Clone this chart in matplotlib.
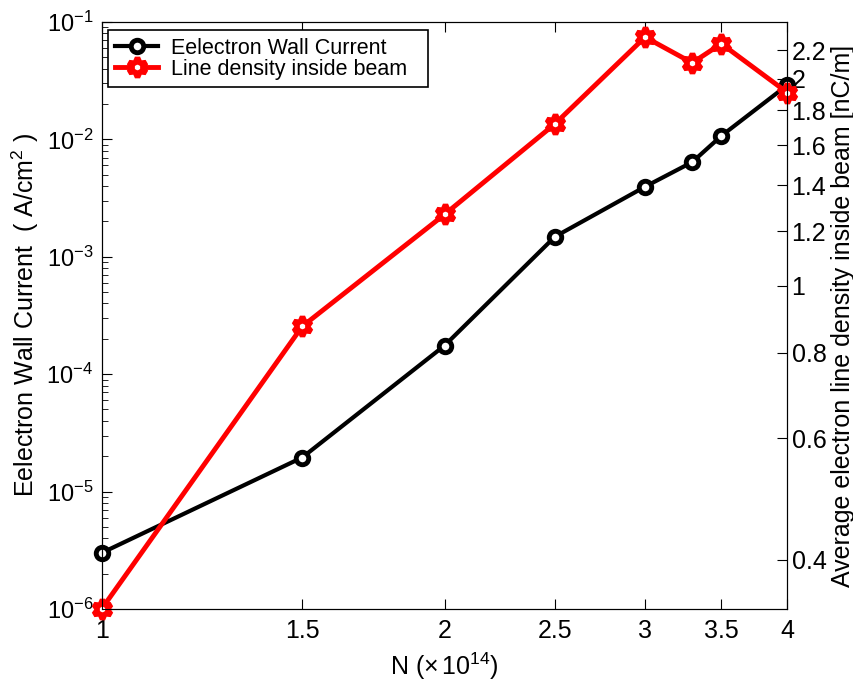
import numpy as np
import matplotlib.pyplot as plt
from matplotlib.ticker import FixedLocator, NullLocator, FixedFormatter

plt.rcParams['font.family'] = ['Liberation Sans', 'DejaVu Sans']
plt.rcParams['mathtext.fontset'] = 'custom'
plt.rcParams['mathtext.rm'] = 'Liberation Sans'
plt.rcParams['mathtext.it'] = 'Liberation Sans:italic'

# data
n_vals = [1, 1.5, 2, 2.5, 3, 3.3, 3.5, 4]
wall_current = [3.0e-6, 1.95e-5, 1.75e-4, 1.48e-3, 3.95e-3, 6.4e-3, 1.07e-2, 2.9e-2]
line_density = [0.339, 0.873, 1.27, 1.72, 2.30, 2.11, 2.25, 1.91]

xticks = [1, 1.5, 2, 2.5, 3, 3.5, 4]
xtick_labels = ['1', '1.5', '2', '2.5', '3', '3.5', '4']
rticks = [0.4, 0.6, 0.8, 1, 1.2, 1.4, 1.6, 1.8, 2, 2.2]
rtick_labels = ['0.4', '0.6', '0.8', '1', '1.2', '1.4', '1.6', '1.8', '2', '2.2']

fig = plt.figure(figsize=(8.54, 6.85), dpi=100)
ax = fig.add_axes([0.119, 0.111, 0.803, 0.857])
ax2 = ax.twinx()

l1, = ax.plot(n_vals, wall_current, color='black', lw=3, marker='o', ms=9,
              mfc='white', mec='black', mew=3.5, label='Eelectron Wall Current',
              clip_on=False)
l2, = ax2.plot(n_vals, line_density, color='red', lw=3.5, marker=(6, 1, 0), ms=14,
               mfc='white', mec='red', mew=4, label='Line density inside beam',
               clip_on=False)

ax.set_xscale('log')
ax.set_yscale('log')
ax2.set_yscale('log')
ax.set_xlim(1, 4)
ax.set_ylim(1e-6, 1e-1)
ax2.set_ylim(0.339, 2.42)

ax.xaxis.set_major_locator(FixedLocator(xticks))
ax.xaxis.set_major_formatter(FixedFormatter(xtick_labels))
ax.xaxis.set_minor_locator(NullLocator())
ax.set_yticks([1e-6, 1e-5, 1e-4, 1e-3, 1e-2, 1e-1])
ax.set_yticklabels(['$10^{-6}$', '$10^{-5}$', '$10^{-4}$', '$10^{-3}$', '$10^{-2}$', '$10^{-1}$'])
ax2.yaxis.set_major_locator(FixedLocator(rticks))
ax2.yaxis.set_major_formatter(FixedFormatter(rtick_labels))
ax2.yaxis.set_minor_locator(NullLocator())

ax.tick_params(axis='x', which='both', direction='in', top=True, length=7, labelsize=18, pad=7)
ax.tick_params(axis='y', which='major', direction='in', length=7, labelsize=17, right=False, pad=6)
ax.tick_params(axis='y', which='minor', direction='in', length=4, right=False)
ax2.tick_params(axis='y', which='major', direction='in', length=7, labelsize=18, left=False, pad=3)

ax.set_xlabel(r'N ($\times\,10^{14}$)', fontsize=18, labelpad=6)
ax.set_ylabel(r'Eelectron Wall Current  ( A/cm$^2$ )', fontsize=18, labelpad=4)
ax2.set_ylabel('Average electron line density inside beam [nC/m]', fontsize=18, labelpad=3)

leg = ax2.legend(handles=[l1, l2], loc='upper left', bbox_to_anchor=(0.0088, 0.986, 0.467, 0),
                 mode='expand', fontsize=15.5, frameon=True, fancybox=False, framealpha=1,
                 edgecolor='black', borderaxespad=0, handlelength=2.0, handletextpad=0.6,
                 labelspacing=0.0, borderpad=0.35)
leg.get_frame().set_linewidth(1.2)

fig.savefig('out.png', dpi=100)
